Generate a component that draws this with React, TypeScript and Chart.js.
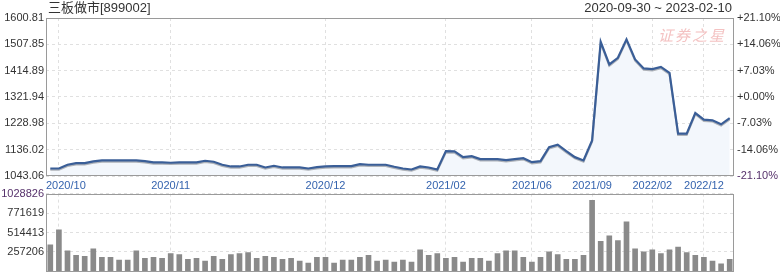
import React, { useEffect, useRef } from 'react';
import { Chart, registerables } from 'chart.js';

Chart.register(...registerables);

const title = '三板做市[899002]';
const dateRange = '2020-09-30 ~ 2023-02-10';
const watermark = '证券之星';

const closeValues = [
  1069.6, 1069.6, 1082.7, 1088.4, 1088.4, 1094.4, 1098.0, 1098.0, 1098.0, 1098.0,
  1098.0, 1095.5, 1090.9, 1090.9, 1089.8, 1090.9, 1090.9, 1090.9, 1096.8, 1093.3,
  1082.7, 1076.7, 1076.7, 1082.7, 1082.7, 1073.2, 1079.2, 1073.2, 1073.2, 1073.2,
  1069.6, 1074.2, 1076.7, 1077.8, 1077.8, 1077.8, 1084.8, 1082.7, 1082.7, 1082.7,
  1075.6, 1069.6, 1066.1, 1076.7, 1073.2, 1066.1, 1130.9, 1129.8, 1109.6, 1113.2,
  1102.6, 1102.6, 1102.6, 1099.0, 1102.6, 1106.1, 1092.0, 1095.5, 1145.0, 1153.5,
  1130.9, 1109.6, 1098.0, 1168.8, 1516.8, 1436.8, 1460.2, 1525.3, 1454.5, 1422.7,
  1420.2, 1428.3, 1407.1, 1192.5, 1192.5, 1265.4, 1242.1, 1239.6, 1225.4, 1247.7,
];

const volumeValues = [
  351000, 549000, 272000, 211000, 198000, 297000, 186000, 186000, 149000, 149000,
  272000, 173000, 186000, 173000, 235000, 223000, 161000, 173000, 136000, 198000,
  161000, 223000, 235000, 248000, 173000, 198000, 186000, 161000, 173000, 136000,
  111000, 186000, 186000, 111000, 149000, 149000, 186000, 211000, 136000, 149000,
  124000, 149000, 124000, 285000, 211000, 235000, 173000, 186000, 124000, 173000,
  173000, 136000, 235000, 272000, 272000, 186000, 124000, 186000, 260000, 223000,
  161000, 161000, 211000, 941000, 396000, 471000, 409000, 656000, 297000, 260000,
  285000, 235000, 285000, 322000, 248000, 211000, 186000, 136000, 99000, 161000,
];

const xTickIndex = [1, 14, 32, 46, 56, 63, 70, 76];
const xTickLabels = ['2020/10', '2020/11', '2020/12', '2021/02', '2021/06', '2021/09', '2022/02', '2022/12'];

const priceTicks = [1043.06, 1136.02, 1228.98, 1321.94, 1414.89, 1507.85, 1600.81];
const priceTickLabels = ['1043.06', '1136.02', '1228.98', '1321.94', '1414.89', '1507.85', '1600.81'];
const pctTickLabels = ['-21.10%', '-14.06%', '-7.03%', '+0.00%', '+7.03%', '+14.06%', '+21.10%'];

const volumeTicks = [0, 257206, 514413, 771619, 1028826];
const volumeTickLabels = ['', '257206', '514413', '771619', '1028826'];

const categories = closeValues.map((_, i) => String(i));

const FONT = '"Liberation Sans", Arial, sans-serif';
const GRID = '#e0e0e0';
const FRAME = '#9a9a9a';
const LABEL = '#333333';
const ACCENT = '#55306a';

const framePlugin = {
  id: 'frame',
  afterDraw(chart: any) {
    const { ctx, chartArea: a } = chart;
    ctx.save();
    ctx.strokeStyle = FRAME;
    ctx.lineWidth = 1;
    ctx.strokeRect(Math.round(a.left) + 0.5, Math.round(a.top) + 0.5,
      Math.round(a.right - a.left) - 1, Math.round(a.bottom - a.top) - 1);
    ctx.restore();
  },
};

const shadowPlugin = {
  id: 'shadowShift',
  beforeDatasetDraw(chart: any, args: any) {
    if (args.index === 1) {
      chart.ctx.save();
      chart.ctx.translate(0, 1.3);
    }
  },
  afterDatasetDraw(chart: any, args: any) {
    if (args.index === 1) chart.ctx.restore();
  },
};

const xLabelPlugin = {
  id: 'xLabels',
  afterDraw(chart: any) {
    const { ctx, chartArea, scales } = chart;
    const xs = scales.x;
    ctx.save();
    ctx.font = '11px ' + FONT;
    ctx.fillStyle = '#3463ae';
    ctx.textBaseline = 'middle';
    ctx.textAlign = 'left';
    xTickIndex.forEach((idx, k) => {
      const text = xTickLabels[k];
      const w = ctx.measureText(text).width;
      let left = xs.getPixelForValue(idx) - w / 2;
      left = Math.max(chartArea.left, Math.min(left, chartArea.right - w));
      ctx.fillText(text, left, chartArea.bottom + 10);
    });
    ctx.restore();
  },
};

const xTicksHook = (s: any) => {
  s.ticks = xTickIndex.map((v) => ({ value: v }));
};

export default function App() {
  const priceRef = useRef<HTMLCanvasElement>(null);
  const volRef = useRef<HTMLCanvasElement>(null);

  useEffect(() => {
    Chart.defaults.font.family = FONT;
    Chart.defaults.font.size = 11;

    const priceChart = new Chart(priceRef.current as HTMLCanvasElement, {
      type: 'line',
      data: {
        labels: categories,
        datasets: [
          { label: 'fill', data: closeValues, borderColor: 'transparent', borderWidth: 0, pointRadius: 0, fill: 'start', backgroundColor: '#f3f7fc', order: 3 } as any,
          { label: 'shadow', data: closeValues, borderColor: '#aeb2b8', borderWidth: 2, pointRadius: 0, fill: false, order: 2 },
          { label: 'close', data: closeValues, borderColor: '#3a5e97', borderWidth: 2.2, pointRadius: 0, fill: false, order: 1 },
        ],
      },
      options: {
        animation: false,
        responsive: false,
        devicePixelRatio: 1,
        layout: { padding: { top: 18, left: 0, right: 0, bottom: 0 } },
        plugins: { legend: { display: false }, tooltip: { enabled: false }, title: { display: false } },
        elements: { line: { tension: 0 } },
        scales: {
          x: {
            type: 'category',
            offset: true,
            grid: { display: true, offset: false, color: GRID, drawTicks: false },
            border: { display: false, dash: [3, 3] },
            ticks: { display: false, autoSkip: false },
            afterBuildTicks: xTicksHook,
            afterFit: (s: any) => { s.height = 15; },
          },
          y: {
            position: 'left',
            min: priceTicks[0],
            max: priceTicks[priceTicks.length - 1],
            afterBuildTicks: (s: any) => { s.ticks = priceTicks.map((v) => ({ value: v })); },
            ticks: { padding: 2, color: LABEL, font: { size: 11 }, callback: (_v: any, i: number) => priceTickLabels[i] },
            grid: { color: GRID, drawTicks: false },
            border: { display: false, dash: [3, 3] },
            afterFit: (s: any) => { s.width = 46; },
          },
          y2: {
            position: 'right',
            min: priceTicks[0],
            max: priceTicks[priceTicks.length - 1],
            afterBuildTicks: (s: any) => { s.ticks = priceTicks.map((v) => ({ value: v })); },
            ticks: {
              padding: 3,
              font: { size: 11 },
              color: (c: any) => (c.index === 0 ? ACCENT : LABEL),
              callback: (_v: any, i: number) => pctTickLabels[i],
            },
            grid: { display: false, drawTicks: false },
            border: { display: false },
            afterFit: (s: any) => { s.width = 46; },
          },
        },
      } as any,
      plugins: [shadowPlugin, framePlugin, xLabelPlugin],
    });

    const volChart = new Chart(volRef.current as HTMLCanvasElement, {
      type: 'bar',
      data: {
        labels: categories,
        datasets: [
          { label: 'volume', data: volumeValues, backgroundColor: '#8a8a8a', barThickness: 5 },
        ],
      },
      options: {
        animation: false,
        responsive: false,
        devicePixelRatio: 1,
        layout: { padding: { top: 8, left: 0, right: 46, bottom: 0 } },
        plugins: { legend: { display: false }, tooltip: { enabled: false } },
        scales: {
          x: {
            type: 'category',
            offset: true,
            grid: { display: true, offset: false, color: GRID, drawTicks: false },
            border: { display: false, dash: [3, 3] },
            ticks: { display: false, autoSkip: false },
            afterBuildTicks: xTicksHook,
            afterFit: (s: any) => { s.height = 3; },
          },
          y: {
            position: 'left',
            min: 0,
            max: volumeTicks[volumeTicks.length - 1],
            afterBuildTicks: (s: any) => { s.ticks = volumeTicks.map((v) => ({ value: v })); },
            ticks: {
              padding: 2,
              font: { size: 11 },
              color: (c: any) => (c.index === volumeTicks.length - 1 ? ACCENT : LABEL),
              callback: (_v: any, i: number) => volumeTickLabels[i],
            },
            grid: { color: GRID, drawTicks: false },
            border: { display: false, dash: [3, 3] },
            afterFit: (s: any) => { s.width = 46; },
          },
        },
      } as any,
      plugins: [framePlugin],
    });

    return () => {
      priceChart.destroy();
      volChart.destroy();
    };
  }, []);

  return (
    <div style={{ position: 'fixed', left: 0, top: 0, width: 780, height: 280, background: '#ffffff', overflow: 'hidden', fontFamily: FONT }}>
      <div style={{ position: 'absolute', left: 0, top: 0 }}>
        <canvas ref={priceRef} width={780} height={191} style={{ display: 'block' }} />
      </div>
      <div style={{ position: 'absolute', left: 0, top: 185 }}>
        <canvas ref={volRef} width={780} height={95} style={{ display: 'block' }} />
      </div>
      <div style={{ position: 'absolute', left: 48, top: 0, fontSize: 13, lineHeight: '15px', color: '#333', fontFamily: FONT + ', "Noto Sans CJK SC"', whiteSpace: 'nowrap' }}>{title}</div>
      <div style={{ position: 'absolute', right: 48, top: 0, fontSize: 13, lineHeight: '15px', color: '#333', whiteSpace: 'nowrap' }}>{dateRange}</div>
      <div style={{ position: 'absolute', left: 658, top: 26, fontSize: 15, lineHeight: '17px', color: '#f4c2c2', letterSpacing: 2, fontStyle: 'italic', fontFamily: '"Noto Sans CJK SC", sans-serif', whiteSpace: 'nowrap', pointerEvents: 'none' }}>{watermark}</div>
    </div>
  );
}
